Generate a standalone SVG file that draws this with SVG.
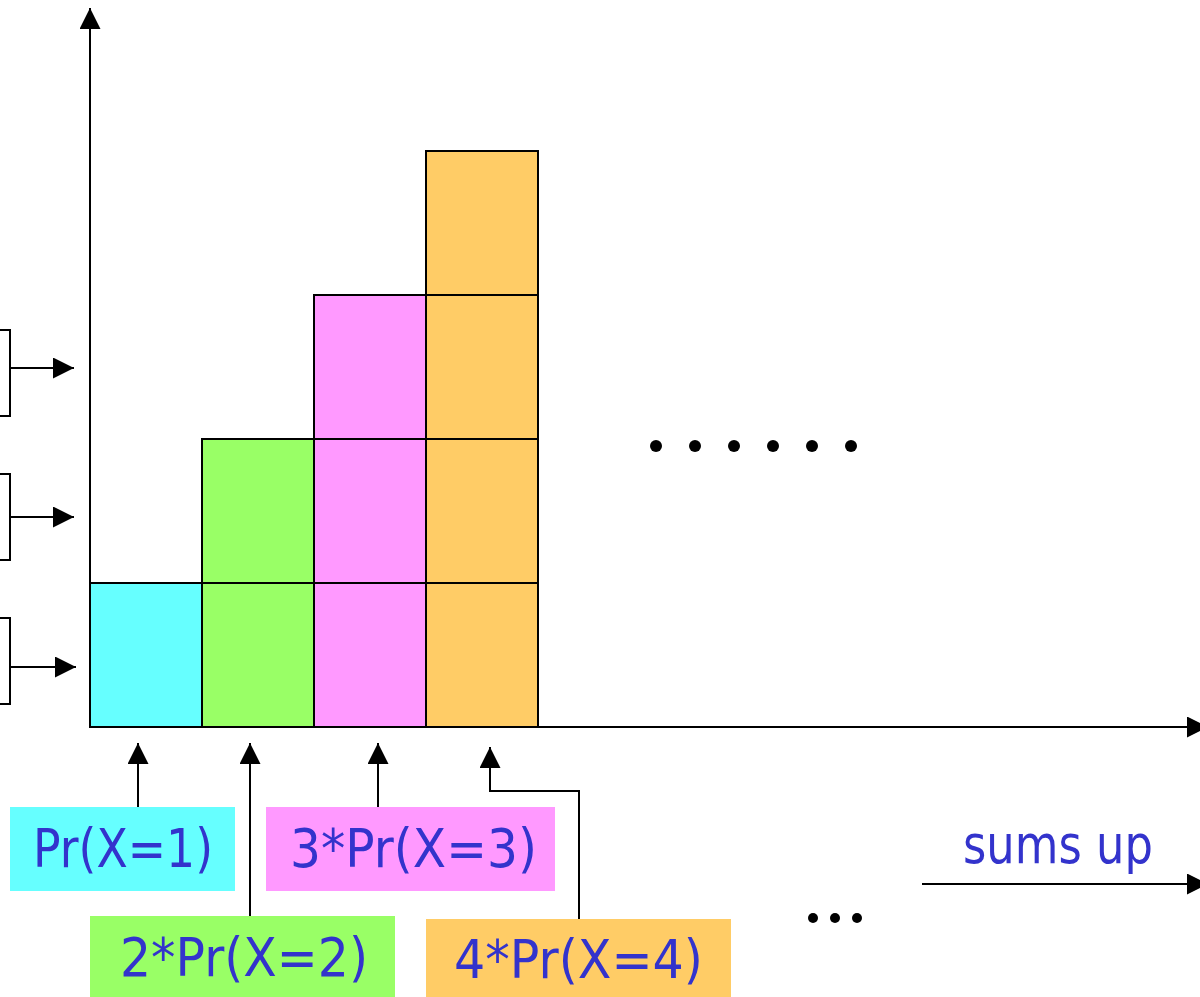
<svg xmlns="http://www.w3.org/2000/svg" width="1200" height="997" viewBox="0 0 1200 997">
<style>
.cell{stroke:#000;stroke-width:2}
.c1{fill:#66FFFF}.c2{fill:#99FF66}.c3{fill:#FF99FF}.c4{fill:#FFCC66}
.ln{stroke:#000;stroke-width:2;fill:none}
.lbl{font-family:"DejaVu Sans","Liberation Sans",sans-serif;font-size:54px;fill:#3333CC}
.dot{fill:#000}
</style>
<defs>
<marker id="ah" viewBox="0 0 20 20" refX="20" refY="10" markerWidth="21" markerHeight="21" markerUnits="userSpaceOnUse" orient="auto">
<path d="M0,0 L20,10 L0,20 Z" fill="#000"/>
</marker>
</defs>
<g id="bars">
<rect class="cell c1" x="90" y="583" width="112" height="144"/>
<rect class="cell c2" x="202" y="583" width="112" height="144"/>
<rect class="cell c2" x="202" y="439" width="112" height="144"/>
<rect class="cell c3" x="314" y="583" width="112" height="144"/>
<rect class="cell c3" x="314" y="439" width="112" height="144"/>
<rect class="cell c3" x="314" y="295" width="112" height="144"/>
<rect class="cell c4" x="426" y="583" width="112" height="144"/>
<rect class="cell c4" x="426" y="439" width="112" height="144"/>
<rect class="cell c4" x="426" y="295" width="112" height="144"/>
<rect class="cell c4" x="426" y="151" width="112" height="144"/>
</g>
<g id="axes">
<line class="ln" x1="90" y1="728" x2="90" y2="8" marker-end="url(#ah)"/>
<line class="ln" x1="89" y1="727" x2="1208" y2="727" marker-end="url(#ah)"/>
</g>
<g id="brackets">
<path class="ln" d="M-2,330 H10 V416 H-2"/>
<path class="ln" d="M-2,474 H10 V560 H-2"/>
<path class="ln" d="M-2,618 H10 V704 H-2"/>
</g>
<g id="connectors">
<line class="ln" x1="10" y1="368" x2="74" y2="368" marker-end="url(#ah)"/>
<line class="ln" x1="10" y1="517" x2="74" y2="517" marker-end="url(#ah)"/>
<line class="ln" x1="11" y1="667" x2="76" y2="667" marker-end="url(#ah)"/>
<line class="ln" x1="138" y1="807" x2="138" y2="743" marker-end="url(#ah)"/>
<line class="ln" x1="250" y1="916" x2="250" y2="743" marker-end="url(#ah)"/>
<line class="ln" x1="378" y1="807" x2="378" y2="743" marker-end="url(#ah)"/>
<path class="ln" d="M579,919 V791 H490 V747" marker-end="url(#ah)"/>
<line class="ln" x1="922" y1="884" x2="1208" y2="884" marker-end="url(#ah)"/>
</g>
<g id="label1">
<rect class="c1" x="10" y="807" width="225" height="84"/>
<text class="lbl" x="33" y="867" textLength="180" lengthAdjust="spacingAndGlyphs">Pr(X=1)</text>
</g>
<g id="label2">
<rect class="c2" x="90" y="916" width="305" height="81"/>
<text class="lbl" x="120" y="976" textLength="248" lengthAdjust="spacingAndGlyphs">2*Pr(X=2)</text>
</g>
<g id="label3">
<rect class="c3" x="266" y="807" width="289" height="84"/>
<text class="lbl" x="290" y="867" textLength="247" lengthAdjust="spacingAndGlyphs">3*Pr(X=3)</text>
</g>
<g id="label4">
<rect class="c4" x="426" y="919" width="305" height="78"/>
<text class="lbl" x="454" y="978" textLength="249" lengthAdjust="spacingAndGlyphs">4*Pr(X=4)</text>
</g>
<g id="sums">
<text class="lbl" x="963" y="863" textLength="190" lengthAdjust="spacingAndGlyphs">sums up</text>
</g>
<g id="dots">
<circle class="dot" cx="656" cy="446" r="6"/>
<circle class="dot" cx="695" cy="446" r="6"/>
<circle class="dot" cx="734" cy="446" r="6"/>
<circle class="dot" cx="773" cy="446" r="6"/>
<circle class="dot" cx="812" cy="446" r="6"/>
<circle class="dot" cx="851" cy="446" r="6"/>
</g>
<g id="ellipsis">
<circle class="dot" cx="813" cy="918" r="5"/>
<circle class="dot" cx="835" cy="918" r="5"/>
<circle class="dot" cx="857" cy="918" r="5"/>
</g>
</svg>
